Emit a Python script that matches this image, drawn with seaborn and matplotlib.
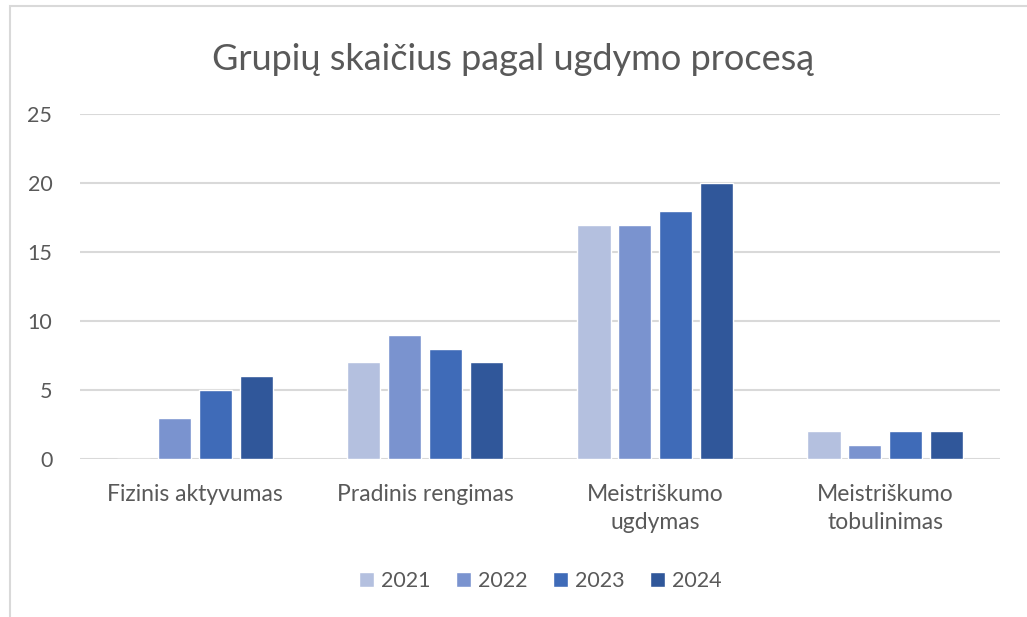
import pandas as pd
import matplotlib.pyplot as plt
import seaborn as sns
from matplotlib.patches import Rectangle

# Duomenys
kategorijos = ['Fizinis aktyvumas', 'Pradinis rengimas', 'Meistriškumo\nugdymas', 'Meistriškumo\ntobulinimas']
metai = ['2021', '2022', '2023', '2024']
v2021 = [0, 7, 17, 2]
v2022 = [3, 9, 17, 1]
v2023 = [5, 8, 18, 2]
v2024 = [6, 7, 20, 2]
spalvos = ['#b4c0df', '#7a93cf', '#3f6bb8', '#30579a']

df = pd.DataFrame({'kategorija': kategorijos * 4,
                   'metai': [m for m in metai for _ in kategorijos],
                   'reiksme': v2021 + v2022 + v2023 + v2024})

sns.set_theme(style="white")
plt.rcParams['font.family'] = ['Lato', 'DejaVu Sans']
teksto_spalva = '#595959'

fig = plt.figure(figsize=(10.27, 6.17), dpi=100)
ax = fig.add_axes([0.078, 0.256, 0.896, 0.559])

sns.barplot(data=df, x='kategorija', y='reiksme', hue='metai', palette=spalvos,
            width=0.71, gap=0.19, ax=ax, saturation=1)

ax.set_ylim(0, 25)
ax.set_yticks(range(0, 26, 5))
ax.yaxis.grid(True, color='#d9d9d9', linewidth=1.5)
ax.set_axisbelow(True)
for s in ax.spines.values():
    s.set_visible(False)
ax.set_xlabel('')
ax.set_ylabel('')
ax.tick_params(axis='both', length=0, colors=teksto_spalva)
ax.tick_params(axis='x', pad=18, labelsize=16.5)
ax.tick_params(axis='y', pad=20, labelsize=15.5)
for t in ax.get_xticklabels():
    t.set_linespacing(1.4)

fig.suptitle('Grupių skaičius pagal ugdymo procesą', y=0.93, fontsize=26, color=teksto_spalva)

ax.legend(loc='center', bbox_to_anchor=(0.5, -0.355), ncol=4, frameon=False,
          fontsize=15.5, labelcolor=teksto_spalva, handlelength=0.7, handleheight=0.7,
          handletextpad=0.3, columnspacing=1.2)

# rėmelis
fig.patches.append(Rectangle((0.01, -0.1), 1.2, 1.09, transform=fig.transFigure,
                             fill=False, edgecolor='#d9d9d9', linewidth=1.5))

fig.savefig('out.png', dpi=100)
